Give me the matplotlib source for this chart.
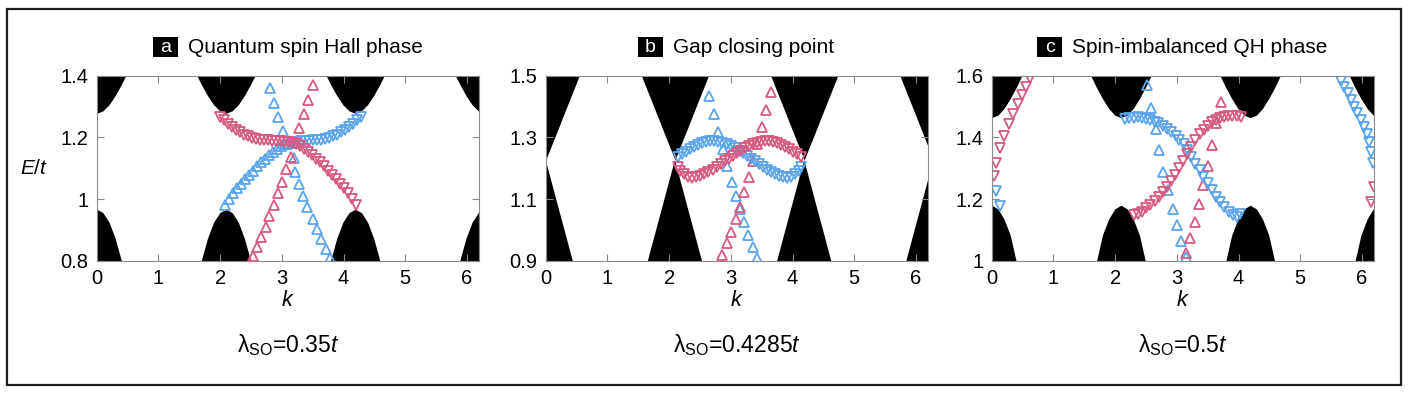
import matplotlib
matplotlib.use('Agg')
import matplotlib.pyplot as plt
from matplotlib.patches import Rectangle

plt.rcParams['font.family'] = ['Liberation Sans', 'DejaVu Sans']
plt.rcParams['mathtext.fontset'] = 'custom'
plt.rcParams['mathtext.rm'] = 'Liberation Sans'
plt.rcParams['mathtext.it'] = 'Liberation Sans:italic'

W, H = 1412, 397
PINK = '#d65a80'
BLUE = '#5aa4ec'
GREY = '#8a8a8a'

# centres of the projected bulk bands (k)
cone_k = [0.0, 2.094, 4.189, 6.283]

# ---- panel a : quantum spin Hall phase ----
a_q = [0.0, 0.1, 0.2, 0.3, 0.4, 0.5, 0.6]
a_top = [1.278, 1.286, 1.306, 1.336, 1.372, 1.412, 1.455]
a_bot = [0.967, 0.956, 0.925, 0.872, 0.800, 0.720, 0.640]

a_pink_dn_k = [2.00, 2.065, 2.13, 2.195, 2.26, 2.325, 2.39, 2.455, 2.52, 2.585, 2.65, 2.715,
               2.78, 2.845, 2.91, 2.975, 3.04, 3.105, 3.17, 3.235, 3.30, 3.365, 3.43, 3.495,
               3.56, 3.625, 3.69, 3.755, 3.82, 3.885, 3.95, 4.015, 4.08, 4.145, 4.21]
a_pink_dn_E = [1.267, 1.255, 1.243, 1.233, 1.224, 1.216, 1.209, 1.203, 1.198, 1.194, 1.192, 1.191,
               1.190, 1.189, 1.188, 1.187, 1.186, 1.184, 1.181, 1.177, 1.171, 1.163, 1.153, 1.142,
               1.131, 1.119, 1.106, 1.092, 1.078, 1.064, 1.050, 1.035, 1.018, 1.000, 0.982]
a_blue_up_k = [2.073, 2.138, 2.203, 2.268, 2.333, 2.398, 2.463, 2.528, 2.593, 2.658, 2.723,
               2.788, 2.853, 2.918, 2.983, 3.048, 3.113]
a_blue_up_E = [0.982, 1.000, 1.018, 1.035, 1.050, 1.064, 1.078, 1.092, 1.106, 1.119, 1.131,
               1.142, 1.153, 1.163, 1.171, 1.177, 1.181]
a_blue_dn_k = [3.178, 3.243, 3.308, 3.373, 3.438, 3.503, 3.568, 3.633, 3.698, 3.763, 3.828,
               3.893, 3.958, 4.023, 4.088, 4.153, 4.218, 4.283]
a_blue_dn_E = [1.184, 1.186, 1.187, 1.188, 1.189, 1.190, 1.191, 1.192, 1.194, 1.198, 1.203,
               1.209, 1.216, 1.224, 1.233, 1.243, 1.255, 1.267]
a_blue_steep_k = [2.81, 2.875, 2.935, 3.016, 3.09, 3.19, 3.215, 3.28, 3.35, 3.415, 3.50, 3.57,
                  3.64, 3.71, 3.78]
a_blue_steep_E = [1.359, 1.313, 1.265, 1.221, 1.178, 1.132, 1.089, 1.049, 1.010, 0.973, 0.934,
                  0.902, 0.869, 0.837, 0.810]
a_pink_steep_k = [2.54, 2.594, 2.664, 2.74, 2.80, 2.875, 2.94, 3.01, 3.07, 3.146, 3.21, 3.285,
                  3.36, 3.43, 3.50]
a_pink_steep_E = [0.815, 0.843, 0.876, 0.910, 0.946, 0.981, 1.019, 1.056, 1.096, 1.137, 1.181,
                  1.229, 1.276, 1.321, 1.370]

# ---- panel b : gap closing point ----
b_q = [0.0, 0.1, 0.2, 0.3, 0.4, 0.5, 0.6]
b_top = [1.227, 1.277, 1.327, 1.378, 1.428, 1.478, 1.530]
b_bot = [1.227, 1.152, 1.077, 1.003, 0.928, 0.853, 0.778]

b_blue_dn_k = [2.15, 2.215, 2.28, 2.345, 2.41, 2.475, 2.54, 2.605, 2.67, 2.735, 2.80, 2.865,
               2.93, 2.995, 3.06, 3.125, 3.19, 3.255, 3.32, 3.385, 3.45, 3.515, 3.58, 3.645,
               3.71, 3.775, 3.84, 3.905, 3.97, 4.035, 4.10, 4.14]
b_blue_dn_E = [1.235, 1.246, 1.254, 1.262, 1.270, 1.276, 1.282, 1.286, 1.288, 1.288, 1.286, 1.282,
               1.277, 1.271, 1.264, 1.256, 1.248, 1.240, 1.231, 1.222, 1.213, 1.204, 1.195, 1.187,
               1.180, 1.174, 1.170, 1.169, 1.172, 1.180, 1.192, 1.205]
b_pink_dn_k = [2.143, 2.183, 2.248, 2.313, 2.378, 2.443, 2.508, 2.573, 2.638, 2.703, 2.768,
               2.833, 2.898, 2.963, 3.028, 3.093, 3.158, 3.223, 3.288, 3.353, 3.418, 3.483,
               3.548, 3.613, 3.678, 3.743, 3.808, 3.873, 3.938, 4.003, 4.068, 4.133]
b_pink_dn_E = [1.205, 1.192, 1.180, 1.172, 1.169, 1.170, 1.174, 1.180, 1.187, 1.195, 1.204,
               1.213, 1.222, 1.231, 1.240, 1.248, 1.256, 1.264, 1.271, 1.277, 1.282, 1.286,
               1.288, 1.288, 1.286, 1.282, 1.276, 1.270, 1.262, 1.254, 1.246, 1.235]
b_blue_steep_k = [2.65, 2.73, 2.80, 2.87, 2.935, 3.016, 3.08, 3.15, 3.216, 3.286, 3.357, 3.43]
b_blue_steep_E = [1.434, 1.375, 1.316, 1.262, 1.208, 1.156, 1.111, 1.067, 1.024, 0.983, 0.945,
                  0.910]
b_pink_steep_k = [2.864, 2.935, 3.005, 3.08, 3.15, 3.22, 3.29, 3.36, 3.43, 3.51, 3.57, 3.65]
b_pink_steep_E = [0.918, 0.956, 0.994, 1.034, 1.075, 1.122, 1.172, 1.223, 1.277, 1.333, 1.389,
                  1.448]

# ---- panel c : spin-imbalanced QH phase ----
c_q = [0.0, 0.1, 0.2, 0.3, 0.4, 0.5, 0.6]
c_top = [1.464, 1.472, 1.494, 1.526, 1.563, 1.605, 1.650]
c_bot = [1.180, 1.168, 1.135, 1.083, 0.995, 0.910, 0.820]

c_blue_dn_k = [0.065, 0.135,
               2.16, 2.23, 2.30, 2.37, 2.43, 2.50, 2.57, 2.64, 2.70, 2.77, 2.84, 2.91, 2.98,
               3.04, 3.11, 3.16, 3.23, 3.30, 3.37, 3.43, 3.50, 3.57, 3.64, 3.70, 3.77, 3.84,
               3.91, 3.97, 4.03,
               5.66, 5.71, 5.77, 5.82, 5.87, 5.92, 5.99, 6.03, 6.08, 6.12, 6.15, 6.18]
c_blue_dn_E = [1.227, 1.178,
               1.459, 1.462, 1.464, 1.465, 1.464, 1.461, 1.456, 1.451, 1.446, 1.437, 1.427,
               1.417, 1.404, 1.391, 1.378, 1.359, 1.335, 1.314, 1.294, 1.272, 1.251, 1.229,
               1.208, 1.189, 1.173, 1.159, 1.148, 1.143, 1.151,
               1.584, 1.564, 1.545, 1.521, 1.500, 1.478, 1.456, 1.433, 1.411, 1.386, 1.354,
               1.316]
c_pink_dn_k = [0.03, 0.07, 0.135, 0.205, 0.28, 0.35, 0.42, 0.49, 0.556, 0.62,
               2.30, 2.37, 2.435, 2.50, 2.57, 2.64, 2.705, 2.77, 2.84, 2.91, 2.975, 3.04,
               3.105, 3.17, 3.235, 3.30, 3.37, 3.435, 3.50, 3.57, 3.635, 3.70, 3.77, 3.835,
               3.90, 3.97, 4.035,
               6.146, 6.19]
c_pink_dn_E = [1.275, 1.318, 1.365, 1.404, 1.442, 1.476, 1.508, 1.537, 1.564, 1.592,
               1.148, 1.151, 1.159, 1.170, 1.181, 1.194, 1.208, 1.224, 1.240, 1.259, 1.278,
               1.300, 1.322, 1.346, 1.370, 1.390, 1.410, 1.425, 1.438, 1.449, 1.457, 1.463,
               1.467, 1.469, 1.470, 1.469, 1.467,
               1.189, 1.240]
c_blue_steep_k = [2.523, 2.578, 2.66, 2.718, 2.78, 2.854, 2.93, 3.00, 3.065, 3.15]
c_blue_steep_E = [1.570, 1.494, 1.427, 1.359, 1.289, 1.229, 1.168, 1.116, 1.065, 1.011]
c_pink_steep_k = [3.15, 3.22, 3.29, 3.36, 3.43, 3.50, 3.57, 3.64, 3.71]
c_pink_steep_E = [1.026, 1.073, 1.126, 1.184, 1.245, 1.307, 1.375, 1.445, 1.516]

panels = [
    dict(letter='a', title='Quantum spin Hall phase', lam='0.35',
         ylim=(0.8, 1.4), yticks=[0.8, 1.0, 1.2, 1.4], ylabels=['0.8', '1', '1.2', '1.4'],
         q=a_q, top=a_top, bot=a_bot,
         series=[(a_blue_steep_k, a_blue_steep_E, BLUE, '^'),
                 (a_pink_steep_k, a_pink_steep_E, PINK, '^'),
                 (a_blue_up_k, a_blue_up_E, BLUE, '^'),
                 (a_blue_dn_k, a_blue_dn_E, BLUE, 'v'),
                 (a_pink_dn_k, a_pink_dn_E, PINK, 'v')]),
    dict(letter='b', title='Gap closing point', lam='0.4285',
         ylim=(0.9, 1.5), yticks=[0.9, 1.1, 1.3, 1.5], ylabels=['0.9', '1.1', '1.3', '1.5'],
         q=b_q, top=b_top, bot=b_bot,
         series=[(b_blue_steep_k, b_blue_steep_E, BLUE, '^'),
                 (b_pink_steep_k, b_pink_steep_E, PINK, '^'),
                 (b_blue_dn_k, b_blue_dn_E, BLUE, 'v'),
                 (b_pink_dn_k, b_pink_dn_E, PINK, 'v')]),
    dict(letter='c', title='Spin-imbalanced QH phase', lam='0.5',
         ylim=(1.0, 1.6), yticks=[1.0, 1.2, 1.4, 1.6], ylabels=['1', '1.2', '1.4', '1.6'],
         q=c_q, top=c_top, bot=c_bot,
         series=[(c_blue_steep_k, c_blue_steep_E, BLUE, '^'),
                 (c_pink_steep_k, c_pink_steep_E, PINK, '^'),
                 (c_blue_dn_k, c_blue_dn_E, BLUE, 'v'),
                 (c_pink_dn_k, c_pink_dn_E, PINK, 'v')]),
]

ax_left = [96.7, 545.7, 991.7]   # pixel positions of the panels
ax_w, ax_top, ax_h = 382.6, 75.7, 185.0
box_left = [152.7, 637.7, 1036.7]


def fx(x):
    return x / W


def fy(y):
    return 1 - y / H


fig = plt.figure(figsize=(W / 100, H / 100), dpi=100)
fig.patches.append(Rectangle((fx(6.5), fy(385)), fx(1401) - fx(6.5), fy(9.5) - fy(385),
                             transform=fig.transFigure, fill=False, ec='#1e1e1e', lw=1.6))

for i, p in enumerate(panels):
    ax = fig.add_axes([fx(ax_left[i]), fy(ax_top + ax_h), fx(ax_w), ax_h / H])
    ymin, ymax = p['ylim']

    # black bulk-band regions around each band centre
    for c in cone_k:
        ks = [c - q for q in p['q'][::-1]] + [c + q for q in p['q'][1:]]
        tops = p['top'][::-1] + p['top'][1:]
        bots = p['bot'][::-1] + p['bot'][1:]
        ax.fill_between(ks, tops, ymax + 1, color='black', lw=0)
        ax.fill_between(ks, ymin - 1, bots, color='black', lw=0)

    for k, e, col, m in p['series']:
        ax.plot(k, e, ls='none', marker=m, ms=6.5, mfc='none', mec=col, mew=1.3)

    ax.set_xlim(0, 6.2)
    ax.set_ylim(ymin, ymax)
    ax.set_xticks(range(7))
    ax.set_yticks(p['yticks'])
    ax.set_yticklabels(p['ylabels'])
    ax.tick_params(direction='in', length=5, width=0.8, color=GREY, labelsize=14.5,
                   top=True, right=True, pad=6)
    for s in ax.spines.values():
        s.set_color(GREY)
        s.set_linewidth(0.8)

    # panel title with black letter box
    fig.patches.append(Rectangle((fx(box_left[i]), fy(57.3)), fx(25.6), 20.6 / H,
                                 transform=fig.transFigure, fc='black', ec='none'))
    fig.text(fx(box_left[i] + 12.8), fy(52.5), p['letter'], color='white', fontsize=14,
             ha='center', va='baseline')
    fig.text(fx(box_left[i] + 35.3), fy(53.3), p['title'], fontsize=15, ha='left', va='baseline')

    cx = ax_left[i] + ax_w / 2
    fig.text(fx(cx), fy(306), '$k$', fontsize=15.5, ha='center', va='baseline')
    fig.text(fx(cx), fy(352), 'λ$_{\\rm SO}$=' + p['lam'] + '$t$', fontsize=16.5,
             ha='center', va='baseline')

fig.text(fx(20), fy(174), '$E/t$', fontsize=15, ha='left', va='baseline')

fig.savefig('out.png', dpi=100)
